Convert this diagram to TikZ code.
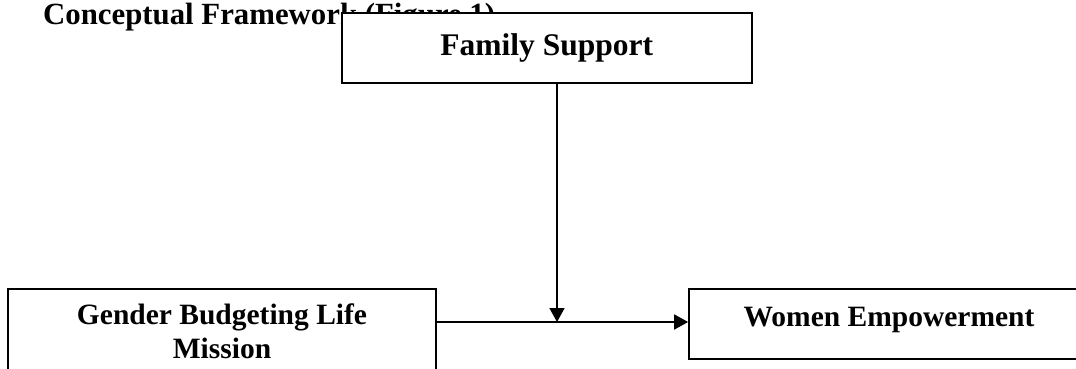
\documentclass[tikz,border=0pt]{standalone}
\usepackage{fontspec}
\setmainfont{Liberation Serif}
\usetikzlibrary{arrows.meta}
\begin{document}
\begin{tikzpicture}[x=1pt,y=-1pt,
  txt/.style={font=\bfseries\fontsize{29.5pt}{34pt}\selectfont},
  bigtxt/.style={font=\bfseries\fontsize{31.5pt}{36pt}\selectfont},
  box/.style={draw, line width=1.7pt, fill=white, inner sep=0pt, txt, align=center},
  conn/.style={line width=1.7pt, -{Triangle[length=14pt,width=15pt]}}]
\useasboundingbox (0,0) rectangle (1076,369);
\clip (0,0) rectangle (1076,369);
\node[anchor=base west, inner sep=0pt, font=\bfseries\fontsize{30.8pt}{36pt}\selectfont] (title) at (43,25) {Conceptual Framework (Figure 1)};
\node[box, bigtxt, minimum width=410pt, minimum height=69.4pt] (family) at (546.7,48) {Family Support};
\node[box, minimum width=428pt, minimum height=84pt] (gender) at (222,331) {Gender Budgeting Life\\Mission};
\node[box, minimum width=400pt, minimum height=70pt, text height=23pt, text depth=18pt] (women) at (889,324) {Women Empowerment};
\coordinate (j) at (557,322);
\draw[conn] (gender.east |- j) -- (women.west |- j);
\draw[conn] (j |- family.south) -- (j);
\end{tikzpicture}
\end{document}
